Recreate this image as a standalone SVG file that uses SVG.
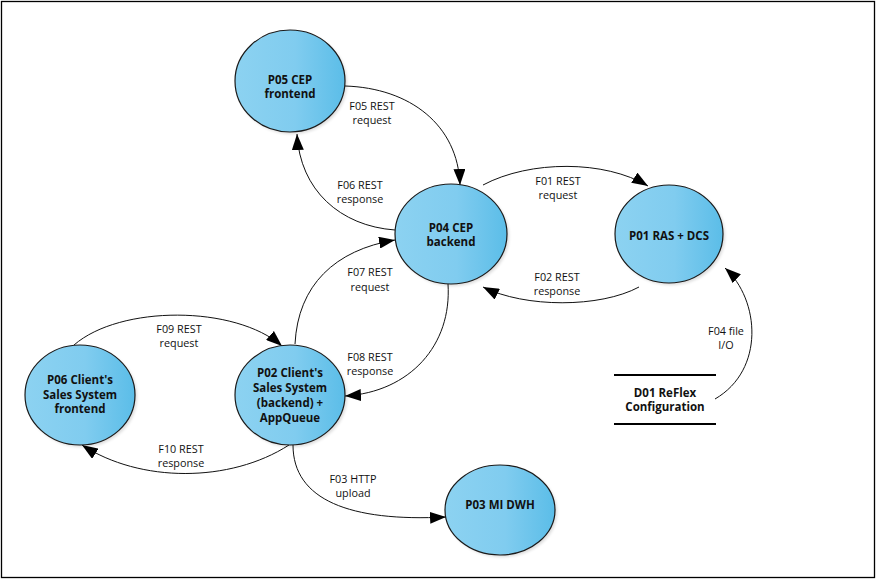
<svg xmlns="http://www.w3.org/2000/svg" width="876" height="580" viewBox="0 0 876 580">
  <defs>
    <linearGradient id="bub" x1="0" y1="0" x2="1" y2="0">
      <stop offset="0" stop-color="#8cd2f1"/>
      <stop offset="0.55" stop-color="#80ccef"/>
      <stop offset="1" stop-color="#5bbde8"/>
    </linearGradient>
    <filter id="sh" x="-20%" y="-20%" width="140%" height="140%">
      <feGaussianBlur stdDeviation="1.5"/>
    </filter>
    <marker id="arr" viewBox="0 0 16 12" refX="16" refY="6" markerWidth="16" markerHeight="12" markerUnits="userSpaceOnUse" orient="auto">
      <path d="M0,0 L16,6 L0,12 z" fill="#000"/>
    </marker>
    <style>
      .node ellipse.b { fill: url(#bub); stroke: #1a1a1a; stroke-width: 1.2; }
      .node ellipse.s { fill: #000; opacity: 0.14; filter: url(#sh); }
      .nt { font-family: "Open Sans", "Noto Sans", "Liberation Sans", sans-serif; font-weight: bold; font-size: 11.5px; fill: #111; text-anchor: middle; }
      .lt { font-family: "Open Sans", "Noto Sans", "Liberation Sans", sans-serif; font-size: 10.8px; fill: #111; text-anchor: middle; }
      .c path { fill: none; stroke: #111; stroke-width: 1; marker-end: url(#arr); }
    </style>
  </defs>
  <rect x="1.5" y="1.5" width="873" height="576" fill="#fff" stroke="#000" stroke-width="1.3"/>

  <g id="connectors" class="c">
    <path id="F05" d="M345,86 C410,88 458,125 460,185"/>
    <path id="F06" d="M395,230 C340,226 300,190 297,134"/>
    <path id="F01" d="M483,185 C530,160 605,160 648,186"/>
    <path id="F02" d="M639,287 C600,308 525,308 483,287"/>
    <path id="F07" d="M295,344 C298,285 335,250 395,240"/>
    <path id="F08" d="M448,284 C452,345 410,392 345,396"/>
    <path id="F09" d="M74,345 C120,305 235,305 282,346"/>
    <path id="F10" d="M289,445 C230,483 140,483 82,445"/>
    <path id="F03" d="M293,445 C293,500 350,522 446,517"/>
    <path id="F04" d="M715,399 C765,370 760,300 725,268"/>
  </g>

  <g id="labels">
    <text class="lt" x="372" y="110">F05 REST</text>
    <text class="lt" x="372" y="124">request</text>
    <text class="lt" x="360" y="189">F06 REST</text>
    <text class="lt" x="360" y="203">response</text>
    <text class="lt" x="558" y="185">F01 REST</text>
    <text class="lt" x="558" y="199">request</text>
    <text class="lt" x="557" y="281">F02 REST</text>
    <text class="lt" x="557" y="295">response</text>
    <text class="lt" x="370" y="276">F07 REST</text>
    <text class="lt" x="370" y="291">request</text>
    <text class="lt" x="370" y="361">F08 REST</text>
    <text class="lt" x="370" y="375">response</text>
    <text class="lt" x="179" y="333">F09 REST</text>
    <text class="lt" x="179" y="347">request</text>
    <text class="lt" x="181" y="453">F10 REST</text>
    <text class="lt" x="181" y="467">response</text>
    <text class="lt" x="353" y="483">F03 HTTP</text>
    <text class="lt" x="353" y="497">upload</text>
    <text class="lt" x="726" y="335">F04 file</text>
    <text class="lt" x="726" y="349">I/O</text>
  </g>

  <g id="P05" class="node">
    <ellipse class="s" cx="292" cy="83" rx="55" ry="51"/>
    <ellipse class="b" cx="290" cy="81" rx="55" ry="51"/>
    <text class="nt" x="290" y="84">P05 CEP</text>
    <text class="nt" x="290" y="98">frontend</text>
  </g>
  <g id="P04" class="node">
    <ellipse class="s" cx="453" cy="236" rx="56" ry="50"/>
    <ellipse class="b" cx="451" cy="234" rx="56" ry="50"/>
    <text class="nt" x="451" y="232">P04 CEP</text>
    <text class="nt" x="451" y="246">backend</text>
  </g>
  <g id="P01" class="node">
    <ellipse class="s" cx="671" cy="236" rx="54" ry="49"/>
    <ellipse class="b" cx="669" cy="234" rx="54" ry="49"/>
    <text class="nt" x="669" y="240">P01 RAS + DCS</text>
  </g>
  <g id="P06" class="node">
    <ellipse class="s" cx="82" cy="397" rx="55" ry="50"/>
    <ellipse class="b" cx="80" cy="395" rx="55" ry="50"/>
    <text class="nt" x="80" y="384">P06 Client's</text>
    <text class="nt" x="80" y="399">Sales System</text>
    <text class="nt" x="80" y="413">frontend</text>
  </g>
  <g id="P02" class="node">
    <ellipse class="s" cx="292" cy="397" rx="55" ry="50"/>
    <ellipse class="b" cx="290" cy="395" rx="55" ry="50"/>
    <text class="nt" x="290" y="377">P02 Client's</text>
    <text class="nt" x="290" y="392">Sales System</text>
    <text class="nt" x="290" y="407">(backend) +</text>
    <text class="nt" x="290" y="422">AppQueue</text>
  </g>
  <g id="P03" class="node">
    <ellipse class="s" cx="502" cy="512" rx="55" ry="45"/>
    <ellipse class="b" cx="500" cy="510" rx="55" ry="45"/>
    <text class="nt" x="500" y="509">P03 MI DWH</text>
  </g>
  <g id="D01">
    <line x1="614" y1="375" x2="716" y2="375" stroke="#000" stroke-width="2"/>
    <line x1="614" y1="424" x2="716" y2="424" stroke="#000" stroke-width="2"/>
    <text class="nt" x="665" y="397">D01 ReFlex</text>
    <text class="nt" x="665" y="411">Configuration</text>
  </g>
</svg>
